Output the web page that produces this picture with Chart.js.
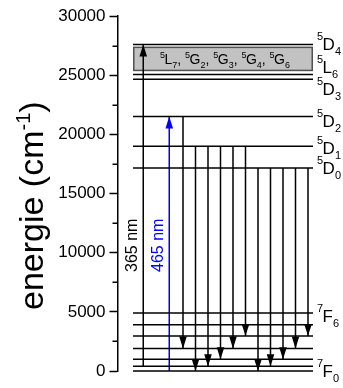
<!DOCTYPE html>
<html>
<head>
<meta charset="utf-8">
<script src="https://cdn.jsdelivr.net/npm/chart.js@4.4.0/dist/chart.umd.min.js"></script>
<style>
  html, body { margin: 0; padding: 0; background: #fff; }
  #wrap { width: 343px; height: 388px; position: relative; }
</style>
</head>
<body>
<div id="wrap"><canvas id="c" width="343" height="388"></canvas></div>
<script>
// Eu3+ term energies (cm^-1)
const groundTerms    = ['7F0', '7F1', '7F2', '7F3', '7F4', '7F5', '7F6'];
const groundEnergies = [0, 400, 1000, 1900, 2950, 3900, 4900];
const excitedTerms    = ['5D0', '5D1', '5D2', '5D3', '5L6', '5D4'];
const excitedEnergies = [17150, 19000, 21500, 24650, 25050, 27600];
// 5L7, 5G2, 5G3, 5G4, 5G6 manifold drawn as a band
const bandTerms  = ['5L7', '5G2', '5G3', '5G4', '5G6'];
const bandRange  = [25400, 27350];
// excitation lines
const pumpLabels = ['365 nm', '465 nm'];
const pumpFrom   = [400, 0];
const pumpTo     = [27600, 21500];
// emission 5D2 -> 7F3, 5D1 -> 7F0..4, 5D0 -> 7F0..4
const emissionFrom = [21500, 19000, 19000, 19000, 19000, 19000, 17150, 17150, 17150, 17150, 17150];
const emissionTo   = [1900, 0, 400, 1000, 1900, 2950, 0, 400, 1000, 1900, 2950];
const yTicks = [0, 5000, 10000, 15000, 20000, 25000, 30000];
// labelled levels on the right side
const sideLabels = ['5D4', '5L6', '5D3', '5D2', '5D1', '5D0', '7F6', '7F0'];

// horizontal layout in "slot" units (one slot per emission arrow)
const LEVEL_X0 = -4.0, LEVEL_X1 = 10.4;
const PUMP_X = [-3.18, -1.1];
const PUMP_COLORS = ['#000000', '#0000ff'];

const FONT = '"Liberation Sans", Arial, Helvetica, sans-serif';

const datasets = [];
function hline(y) {
  return { data: [{x: LEVEL_X0, y: y}, {x: LEVEL_X1, y: y}], borderColor: '#000', borderWidth: 1.5,
           pointRadius: 0, showLine: true, clip: false };
}
groundEnergies.forEach(e => datasets.push(hline(e)));
excitedEnergies.forEach(e => datasets.push(hline(e)));
pumpFrom.forEach((e, i) => datasets.push({
  data: [{x: PUMP_X[i], y: e}, {x: PUMP_X[i], y: pumpTo[i]}], borderColor: PUMP_COLORS[i],
  borderWidth: 1.5, pointRadius: 0, showLine: true, clip: false, arrow: true, arrowColor: PUMP_COLORS[i]
}));
emissionFrom.forEach((e, i) => datasets.push({
  data: [{x: i, y: e}, {x: i, y: emissionTo[i]}], borderColor: '#000',
  borderWidth: 1.5, pointRadius: 0, showLine: true, clip: false, arrow: true, arrowColor: '#000'
}));

function termParts(t) { return [t.charAt(0), t.charAt(1), t.slice(2)]; }

// draws a term symbol like ^5D_4, returns end x
function drawTerm(ctx, x, base, t, mainSize, smallSize, supShift, subShift) {
  const [sup, main, sub] = termParts(t);
  ctx.font = smallSize + 'px ' + FONT;
  ctx.fillText(sup, x, base - supShift);
  x += ctx.measureText(sup).width - 0.5;
  ctx.font = mainSize + 'px ' + FONT;
  ctx.fillText(main, x, base);
  x += ctx.measureText(main).width;
  ctx.font = smallSize + 'px ' + FONT;
  ctx.fillText(sub, x, base + subShift);
  x += ctx.measureText(sub).width;
  return x;
}

const diagramPlugin = {
  id: 'diagram',
  beforeDatasetsDraw(chart) {
    const {ctx, scales: {x, y}} = chart;
    const x0 = x.getPixelForValue(LEVEL_X0), x1 = x.getPixelForValue(LEVEL_X1);
    const yTop = y.getPixelForValue(bandRange[1]), yBot = y.getPixelForValue(bandRange[0]);
    ctx.save();
    ctx.fillStyle = '#c2c2c2';
    ctx.fillRect(x0, yTop, x1 - x0, yBot - yTop);
    ctx.strokeStyle = '#505050';
    ctx.lineWidth = 1.5;
    ctx.strokeRect(x0 + 0.75, yTop, x1 - x0 - 1.5, yBot - yTop);
    // band term list
    ctx.fillStyle = '#000';
    ctx.textBaseline = 'alphabetic';
    ctx.textAlign = 'left';
    const base = (yTop + yBot) / 2 + 5;
    let tx = x0 + 27;
    bandTerms.forEach((t, i) => {
      tx = drawTerm(ctx, tx, base, t, 14, 9, 6, 4);
      if (i < bandTerms.length - 1) {
        ctx.font = '14px ' + FONT;
        ctx.fillText(', ', tx, base);
        tx += ctx.measureText(', ').width;
      }
    });
    ctx.restore();
  },
  afterDatasetsDraw(chart) {
    const {ctx, chartArea, scales: {x, y}} = chart;
    ctx.save();
    // arrow heads
    chart.data.datasets.forEach((ds, i) => {
      if (!ds.arrow) return;
      const pts = chart.getDatasetMeta(i).data;
      const p0 = pts[0], p1 = pts[1];
      const dir = Math.sign(p1.y - p0.y);
      const len = 12, hw = 3.8;
      ctx.fillStyle = ds.arrowColor;
      ctx.beginPath();
      ctx.moveTo(p1.x, p1.y);
      ctx.lineTo(p1.x - hw, p1.y - dir * len);
      ctx.lineTo(p1.x + hw, p1.y - dir * len);
      ctx.closePath();
      ctx.fill();
    });
    // minor ticks
    ctx.strokeStyle = '#000';
    ctx.lineWidth = 1.5;
    for (let v = 2500; v < 30000; v += 5000) {
      const py = Math.round(y.getPixelForValue(v)) + 0.25;
      ctx.beginPath();
      ctx.moveTo(chartArea.left - 5, py);
      ctx.lineTo(chartArea.left, py);
      ctx.stroke();
    }
    // side term labels
    const all = groundTerms.concat(excitedTerms);
    const energies = groundEnergies.concat(excitedEnergies);
    const dy = {'5D4': 6, '5L6': -2, '5D3': 16, '5D2': 10, '5D1': 8, '5D0': 6, '7F6': 9, '7F0': 6};
    ctx.fillStyle = '#000';
    ctx.textAlign = 'left';
    ctx.textBaseline = 'alphabetic';
    sideLabels.forEach(t => {
      const e = energies[all.indexOf(t)];
      const base = y.getPixelForValue(e) + dy[t];
      drawTerm(ctx, x.getPixelForValue(LEVEL_X1) + 4, base, t, 17, 11, 10, 5);
    });
    // excitation wavelength labels
    pumpLabels.forEach((lab, i) => {
      const px = x.getPixelForValue(PUMP_X[i]);
      ctx.save();
      ctx.translate(px - 6, 272);
      ctx.rotate(-Math.PI / 2);
      ctx.font = '16px ' + FONT;
      ctx.fillStyle = PUMP_COLORS[i];
      ctx.fillText(lab, 0, 0);
      ctx.restore();
    });
    // axis title
    ctx.save();
    ctx.translate(43, 310);
    ctx.rotate(-Math.PI / 2);
    ctx.fillStyle = '#000';
    ctx.font = '34px ' + FONT;
    const t1 = 'energie (cm';
    ctx.fillText(t1, 0, 0);
    let w = ctx.measureText(t1).width;
    ctx.font = '20px ' + FONT;
    ctx.fillText('-1', w, -13);
    w += ctx.measureText('-1').width;
    ctx.font = '34px ' + FONT;
    ctx.fillText(')', w, 0);
    ctx.restore();
    ctx.restore();
  }
};

new Chart(document.getElementById('c'), {
  type: 'scatter',
  data: { datasets },
  options: {
    responsive: false,
    animation: false,
    devicePixelRatio: 1,
    layout: { padding: { left: 0, right: 28, top: 16, bottom: 17 } },
    plugins: { legend: { display: false }, tooltip: { enabled: false } },
    scales: {
      x: { type: 'linear', display: false, min: -5.24, max: 10.56 },
      y: {
        type: 'linear', min: 0, max: 30000,
        afterFit(scale) { scale.width = 117.5; },
        afterBuildTicks(scale) { scale.ticks = yTicks.map(v => ({ value: v })); },
        border: { display: true, color: '#000', width: 1.5 },
        grid: { drawOnChartArea: false, drawTicks: true, tickLength: 8, tickColor: '#000', tickWidth: 1.5 },
        ticks: { color: '#000', padding: 4, font: { family: FONT, size: 17 },
                 callback: v => String(v) }
      }
    }
  },
  plugins: [diagramPlugin]
});
</script>
</body>
</html>
